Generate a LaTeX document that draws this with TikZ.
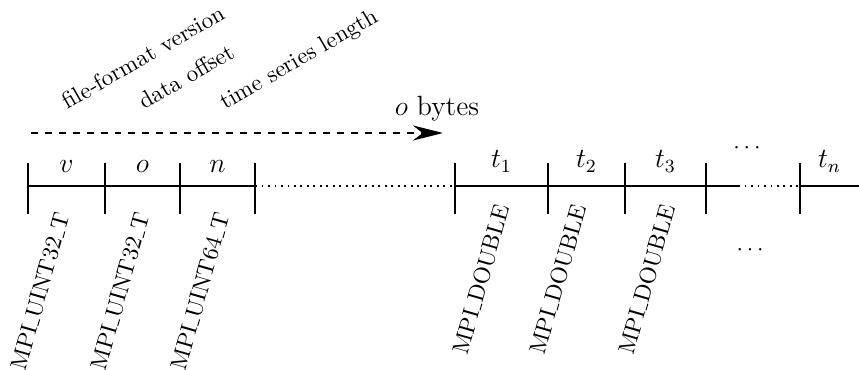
\documentclass[tikz,border=0pt]{standalone}
\usepackage{tikz}
\usetikzlibrary{arrows.meta, positioning, calc}

% narrow low underscore, as in the classic OT1 fonts
\newcommand{\uscore}{\leavevmode\kern.06em\vbox{\hrule width.3em}}

\begin{document}
\begin{tikzpicture}[
  seg/.style={thick},
  gap/.style={thick, dotted},
  tickmark/.style={thick},
  field/.style={anchor=base, inner sep=0pt, font=\large},
  desc/.style={rotate=30, anchor=base west, inner sep=0pt},
  dtype/.style={rotate=74, anchor=base east, inner sep=0pt},
  arrow/.style={-{Stealth[length=13pt, width=6.5pt]}, thick, dashed}
]
\useasboundingbox (0,0) rectangle (13.015,5.591);

% tick marks on the record line
\foreach \name/\x in {a/0.424, b/1.591, c/2.727, d/3.864, e/6.894, f/8.303, g/9.470, h/10.697, k/12.121} {
  \coordinate (\name) at (\x,2.773);
  \draw[tickmark] ([yshift=-0.424cm]\name) -- ([yshift=0.348cm]\name);
}
\coordinate (h2) at ($(h)+(0.485,0)$);
\coordinate (end) at (13.015,2.773);

\draw[seg] (a) -- (d);
\draw[gap] (d) -- (e);
\draw[seg] (e) -- (h2);
\draw[gap] (h2) -- (k);
\draw[seg] (k) -- (end);

% header fields
\node[field] (v) at ($(a)!.5!(b)+(0,0.197)$) {$v$};
\node[field] (o) at ($(b)!.5!(c)+(0,0.197)$) {$o$};
\node[field] (n) at ($(c)!.5!(d)+(0,0.197)$) {$n$};

\node[desc] (vdesc) at (1.015,3.924) {file-format version};
\node[desc] (odesc) at (2.180,3.924) {data offset};
\node[desc] (ndesc) at (3.409,3.924) {time series length};

\node[dtype] (vtype) at (1.061,2.333) {MPI\uscore UINT32\uscore T};
\node[dtype] (otype) at (2.273,2.333) {MPI\uscore UINT32\uscore T};
\node[dtype] (ntype) at (3.485,2.333) {MPI\uscore UINT64\uscore T};

% offset arrow
\coordinate (ostart) at (0.470,3.576);
\coordinate (ostop) at (6.712,3.576);
\draw[arrow] (ostart) -- (ostop);
\node[field] (obytes) at (6.621,3.848) {$o$ bytes};

% data values
\node[field] (t1) at ($(e)!.5!(f)+(0,0.273)$) {$t_1$};
\node[field] (t2) at ($(f)!.5!(g)+(0,0.273)$) {$t_2$};
\node[field] (t3) at ($(g)!.5!(h)+(0,0.273)$) {$t_3$};
\node[field] (tn) at ($(k)!.5!(end)+(0,0.273)$) {$t_n$};
\node (topdots) at (11.318,3.340) {$\cdots$};
\node (botdots) at (11.364,1.803) {$\cdots$};

\node[dtype] (t1type) at (7.727,2.450) {MPI\uscore DOUBLE};
\node[dtype] (t2type) at (8.894,2.450) {MPI\uscore DOUBLE};
\node[dtype] (t3type) at (10.242,2.450) {MPI\uscore DOUBLE};

\end{tikzpicture}
\end{document}
